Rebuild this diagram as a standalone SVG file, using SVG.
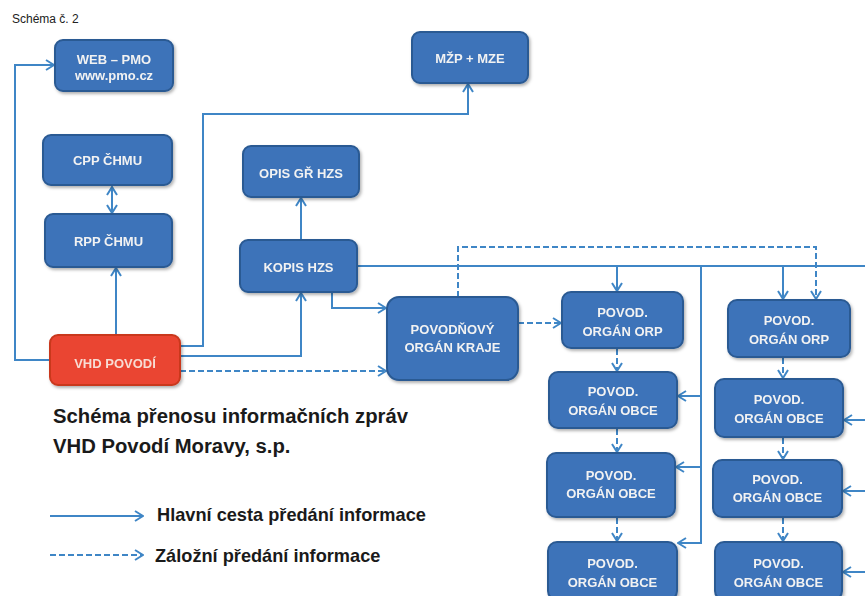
<svg xmlns="http://www.w3.org/2000/svg" width="865" height="596" viewBox="0 0 865 596">
<style>
.box{fill:#3d73b9;stroke:#2b5a93;stroke-width:2}
.red{fill:#ea4530;stroke:#c9371f;stroke-width:2}
.nt{font-family:"Liberation Sans",Arial,sans-serif;font-weight:bold;font-size:13px;fill:#f2f2f2;text-anchor:middle}
.rt{fill:#f8dcd4}
.ln{fill:none;stroke:#3f86c6;stroke-width:2}
.ds{stroke-dasharray:6 3}
.lab{font-family:"Liberation Sans",Arial,sans-serif;font-weight:bold;fill:#1a1a1a}
</style>
<defs>
<marker id="ar" viewBox="0 0 10 12" refX="9" refY="6" markerWidth="10" markerHeight="12" markerUnits="userSpaceOnUse" orient="auto-start-reverse">
<path d="M1,1 L9,6 L1,11" fill="none" stroke="#3f86c6" stroke-width="2"/>
</marker>
<filter id="sh" x="-10%" y="-10%" width="125%" height="130%">
<feDropShadow dx="1.5" dy="2" stdDeviation="1.5" flood-color="#000" flood-opacity="0.3"/>
</filter>
</defs>
<rect width="865" height="596" fill="#fff"/>
<text x="12" y="23" font-family="'Liberation Sans',Arial,sans-serif" font-size="12" fill="#222">Schéma č. 2</text>

<g id="connectors">
<path class="ln" d="M50,360 H15 V65 H54" marker-end="url(#ar)"/>
<path class="ln" d="M180,346 H203 V114 H468 V84" marker-end="url(#ar)"/>
<path class="ln" d="M180,356 H301 V293" marker-end="url(#ar)"/>
<path class="ln" d="M116,335 V268" marker-end="url(#ar)"/>
<path class="ln" d="M112,187 V213" marker-start="url(#ar)" marker-end="url(#ar)"/>
<path class="ln" d="M301,240 V198" marker-end="url(#ar)"/>
<path class="ln" d="M332,292 V308 H386" marker-end="url(#ar)"/>
<path class="ln ds" d="M180,371 H386" marker-end="url(#ar)"/>
<path class="ln" d="M357,266 H865"/>
<path class="ln" d="M617,266 V291" marker-end="url(#ar)"/>
<path class="ln" d="M701,266 V543 H678" marker-end="url(#ar)"/>
<path class="ln" d="M701,396 H678" marker-end="url(#ar)"/>
<path class="ln" d="M701,467 H676" marker-end="url(#ar)"/>
<path class="ln" d="M783,266 V299" marker-end="url(#ar)"/>
<path class="ln ds" d="M458,297 V247 H816 V299" marker-end="url(#ar)"/>
<path class="ln ds" d="M518,323 H561" marker-end="url(#ar)"/>
<path class="ln ds" d="M617,349 V371" marker-end="url(#ar)"/>
<path class="ln ds" d="M617,429 V452" marker-end="url(#ar)"/>
<path class="ln ds" d="M617,518 V541" marker-end="url(#ar)"/>
<path class="ln ds" d="M783,358 V378" marker-end="url(#ar)"/>
<path class="ln ds" d="M783,438 V459" marker-end="url(#ar)"/>
<path class="ln ds" d="M783,518 V541" marker-end="url(#ar)"/>
<path class="ln" d="M865,420 H844" marker-end="url(#ar)"/>
<path class="ln" d="M865,491 H843" marker-end="url(#ar)"/>
<path class="ln" d="M865,572 H843" marker-end="url(#ar)"/>
</g>

<g id="web" filter="url(#sh)">
<rect class="box" x="55" y="40" width="118" height="51" rx="8"/>
<text class="nt" x="114" y="64" font-size="14">WEB – PMO</text>
<text class="nt" x="114" y="80" font-size="9.5">www.pmo.cz</text>
</g>
<g id="mzp" filter="url(#sh)">
<rect class="box" x="412" y="32" width="116" height="51" rx="8"/>
<text class="nt" x="470" y="63">MŽP + MZE</text>
</g>
<g id="cpp" filter="url(#sh)">
<rect class="box" x="43" y="135" width="129" height="50" rx="8"/>
<text class="nt" x="107.5" y="165">CPP ČHMU</text>
</g>
<g id="opis" filter="url(#sh)">
<rect class="box" x="243" y="146" width="116" height="51" rx="8"/>
<text class="nt" x="301" y="178">OPIS GŘ HZS</text>
</g>
<g id="rpp" filter="url(#sh)">
<rect class="box" x="45" y="214" width="127" height="53" rx="8"/>
<text class="nt" x="108.5" y="246">RPP ČHMU</text>
</g>
<g id="kopis" filter="url(#sh)">
<rect class="box" x="240" y="240" width="117" height="52" rx="8"/>
<text class="nt" x="298.5" y="272">KOPIS HZS</text>
</g>
<g id="vhd" filter="url(#sh)">
<rect class="red" x="50" y="335" width="130" height="50" rx="8"/>
<text class="nt rt" x="115" y="368">VHD POVODÍ</text>
</g>
<g id="kraj" filter="url(#sh)">
<rect class="box" x="387" y="297" width="131" height="83" rx="12"/>
<text class="nt" x="452.5" y="334">POVODŇOVÝ</text>
<text class="nt" x="452.5" y="352">ORGÁN KRAJE</text>
</g>
<g id="orp1" filter="url(#sh)">
<rect class="box" x="562" y="292" width="121" height="56" rx="9"/>
<text class="nt" x="622.5" y="317">POVOD.</text>
<text class="nt" x="622.5" y="336">ORGÁN ORP</text>
</g>
<g id="obce1a" filter="url(#sh)">
<rect class="box" x="549" y="372" width="128" height="56" rx="9"/>
<text class="nt" x="613" y="396">POVOD.</text>
<text class="nt" x="613" y="415">ORGÁN OBCE</text>
</g>
<g id="obce1b" filter="url(#sh)">
<rect class="box" x="547" y="453" width="128" height="64" rx="9"/>
<text class="nt" x="611" y="480">POVOD.</text>
<text class="nt" x="611" y="498">ORGÁN OBCE</text>
</g>
<g id="obce1c" filter="url(#sh)">
<rect class="box" x="548" y="542" width="129" height="58" rx="9"/>
<text class="nt" x="612.5" y="568">POVOD.</text>
<text class="nt" x="612.5" y="587">ORGÁN OBCE</text>
</g>
<g id="orp2" filter="url(#sh)">
<rect class="box" x="728" y="300" width="122" height="57" rx="9"/>
<text class="nt" x="789" y="325">POVOD.</text>
<text class="nt" x="789" y="344">ORGÁN ORP</text>
</g>
<g id="obce2a" filter="url(#sh)">
<rect class="box" x="715" y="379" width="128" height="58" rx="9"/>
<text class="nt" x="779" y="404">POVOD.</text>
<text class="nt" x="779" y="423">ORGÁN OBCE</text>
</g>
<g id="obce2b" filter="url(#sh)">
<rect class="box" x="713" y="460" width="129" height="57" rx="9"/>
<text class="nt" x="777.5" y="484">POVOD.</text>
<text class="nt" x="777.5" y="502">ORGÁN OBCE</text>
</g>
<g id="obce2c" filter="url(#sh)">
<rect class="box" x="715" y="542" width="127" height="58" rx="9"/>
<text class="nt" x="778.5" y="568">POVOD.</text>
<text class="nt" x="778.5" y="587">ORGÁN OBCE</text>
</g>

<g id="title">
<text class="lab" x="53" y="423" font-size="20.3">Schéma přenosu informačních zpráv</text>
<text class="lab" x="53" y="453" font-size="20.3">VHD Povodí Moravy, s.p.</text>
</g>
<g id="legend">
<path class="ln" d="M50,516 H143" marker-end="url(#ar)"/>
<text class="lab" x="157" y="521" font-size="18.2">Hlavní cesta předání informace</text>
<path class="ln ds" d="M50,555 H143" marker-end="url(#ar)"/>
<text class="lab" x="155" y="562" font-size="18.2">Záložní předání informace</text>
</g>
</svg>
